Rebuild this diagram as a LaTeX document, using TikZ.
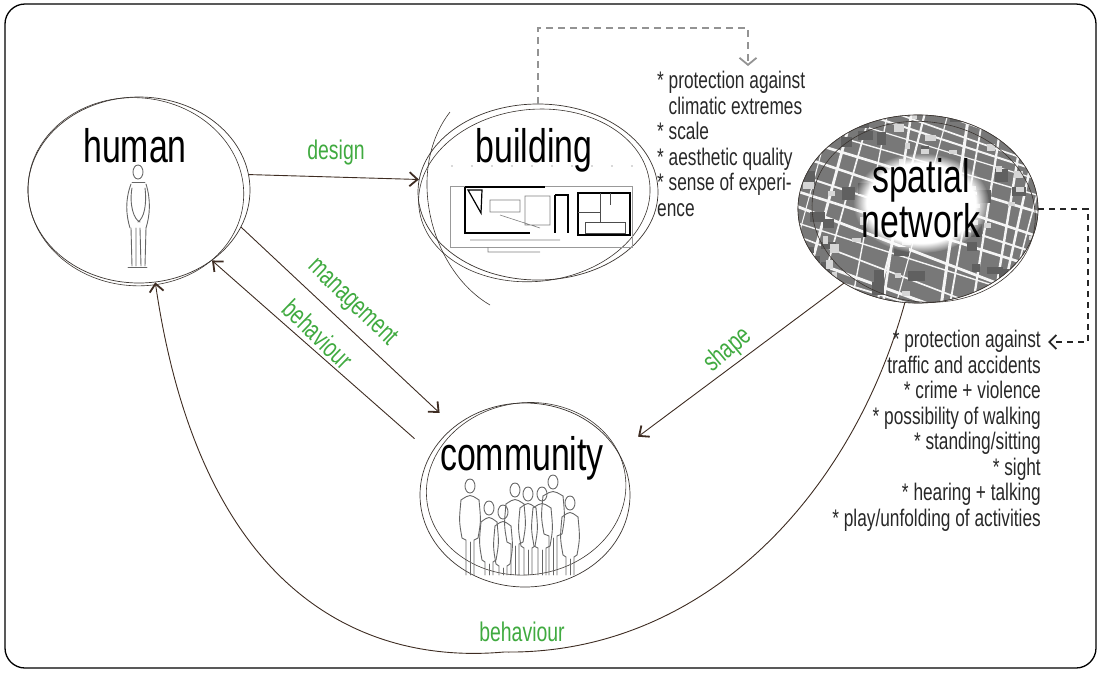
\documentclass[tikz,border=0pt]{standalone}
\usepackage{fontspec}
\setmainfont{Liberation Sans}[FakeStretch=0.72]
\usepackage{tikz}
\usetikzlibrary{shapes.geometric,arrows.meta,positioning,calc,fadings}
\definecolor{sketch}{RGB}{58,52,48}
\definecolor{arrowbrown}{RGB}{62,44,34}
\definecolor{labelgreen}{RGB}{64,170,64}
\definecolor{mapgray}{RGB}{120,120,120}
\definecolor{listgray}{RGB}{40,40,40}
\tikzset{
  hub/.style={ellipse, draw=sketch, line width=0.7pt, inner sep=0pt},
  sketchline/.style={draw=sketch, line width=0.6pt},
  hubtitle/.style={font=\fontsize{47}{45}\selectfont, align=center, inner sep=0pt},
  relabel/.style={text=labelgreen, font=\fontsize{27}{30}\selectfont, inner sep=0pt},
  conn/.style={draw=arrowbrown, line width=0.9pt, -{Straight Barb[length=8pt,width=14pt,line width=1.8pt]}},
  listtext/.style={text=listgray, font=\fontsize{24}{25.5}\selectfont, inner sep=0pt},
  street/.style={draw=white!92!gray},
  gdash/.style={draw=gray!85, line width=1.6pt, dash pattern=on 7pt off 5pt, -{Straight Barb[length=7pt,width=17pt,line width=1.8pt]}},
  bdash/.style={draw=black!85, line width=1.4pt, dash pattern=on 6pt off 5pt, -{Straight Barb[length=7pt,width=14pt,line width=1.8pt]}},
  stickman/.style={draw=black!60, line width=0.9pt, line cap=round, line join=round}
}
\begin{document}
\begin{tikzpicture}[x=1pt,y=-1pt]
    \useasboundingbox (0,0) rectangle (1101,673);
    \draw[line width=1.3pt, rounded corners=20pt] (5,4) rectangle (1096,668);

    % hubs
    \node[hub, minimum width=222pt, minimum height=186pt] (human) at (139,190) {};
    \node[hub, minimum width=240pt, minimum height=176pt] (building) at (538,192) {};
    \node[hub, minimum width=210pt, minimum height=184pt] (community) at (525,495) {};
    \node[hub, minimum width=240pt, minimum height=188pt] (spatial) at (918,209) {};

    % second strokes
    \draw[sketchline, rotate around={-5:(human.center)}] ([shift={(-3,2)}]human.center) ellipse [x radius=108, y radius=94];
    \draw[sketchline, rotate around={6:(building.center)}] ([shift={(-4,3)}]building.center) ellipse [x radius=116, y radius=86];
    \draw[sketchline] (450,112) .. controls (405,170) and (430,270) .. (490,305);
    \draw[sketchline, rotate around={8:(community.center)}] ([shift={(2,-6)}]community.center) ellipse [x radius=100, y radius=86];

    % city map
    \begin{scope}
      \clip (spatial.center) ellipse [x radius=120, y radius=94];
      \fill[mapgray] (spatial.center) ellipse [x radius=120, y radius=94];
      \pgfmathsetseed{7}
      \foreach \k in {0,...,18} {
        \pgfmathsetmacro{\oy}{20+16*\k+6*rnd}
        \pgfmathsetmacro{\lw}{1+2*rnd}
        \draw[street, line width=\lw pt] (780,\oy) -- ++(16+6*rnd:300);
      }
      \foreach \k in {0,...,14} {
        \pgfmathsetmacro{\ox}{795+19*\k+6*rnd}
        \pgfmathsetmacro{\lw}{1+2*rnd}
        \draw[street, line width=\lw pt] (\ox,100) -- ++(98+8*rnd:230);
      }
      \foreach \k in {1,...,40} {
        \pgfmathsetmacro{\sx}{790+250*rnd}
        \pgfmathsetmacro{\sy}{110+200*rnd}
        \fill[mapgray!80!black] (\sx,\sy) rectangle ++(8+10*rnd,6+8*rnd);
      }
      \foreach \k in {1,...,40} {
        \pgfmathsetmacro{\sx}{790+250*rnd}
        \pgfmathsetmacro{\sy}{110+200*rnd}
        \fill[white!70!mapgray] (\sx,\sy) rectangle ++(4+7*rnd,4+5*rnd);
      }
    \end{scope}
    \fill[white, path fading=circle with fuzzy edge 20 percent] (921,203) ellipse [x radius=68, y radius=50];
    \draw[sketchline] (spatial.center) ellipse [x radius=120, y radius=94];
    \draw[sketchline, rotate around={-8:(spatial.center)}] ([shift={(6,2)}]spatial.center) ellipse [x radius=112, y radius=90];

    % titles
    \node[hubtitle] (humantitle) at (135,146) {human};
    \node[hubtitle] (buildingtitle) at (534,150) {building};
    \node[hubtitle] (communitytitle) at (522,458) {community};
    \node[hubtitle] (spatialtitle) at (921,198) {spatial\\network};

    % stick man
    \draw[stickman] (138,172) ellipse [x radius=5, y radius=7];
    \draw[stickman] (132,182) -- (145,182);
    \draw[stickman] (131,184) .. controls (125,200) and (126,215) .. (130,228);
    \draw[stickman] (146,184) .. controls (151,200) and (150,215) .. (146,228);
    \draw[stickman] (132,188) .. controls (129,205) and (134,220) .. (140,222);
    \draw[stickman] (145,188) .. controls (147,205) and (144,218) .. (138,222);
    \draw[stickman] (131,228) -- (132,266) (136,228) -- (136,266) (140,228) -- (141,266) (146,228) -- (145,266);
    \draw[stickman] (128,267) -- (147,267);

    % floor plan
    \foreach \gx in {452,472,...,632} \fill[black!30] (\gx,166) circle (0.8);
    \draw[black!40, line width=0.5pt] (450,186) rectangle (632,247);
    \draw[black, line width=1.4pt] (465,187) -- (545,187) (465,187) -- (465,233) -- (530,233) (555,195) -- (555,233) (555,195) -- (568,195) -- (568,233) (578,193) -- (630,193) -- (630,235) -- (578,235) -- cycle;
    \draw[black, line width=1.2pt] (468,190) -- (482,190) -- (481,213) -- cycle;
    \draw[black!70, line width=0.7pt] (600,193) -- (600,222) (578,212) -- (600,212) (585,222) rectangle (625,233) (610,193) -- (610,205);
    \draw[black!50, line width=0.6pt] (490,200) rectangle (520,212) (525,196) rectangle (550,225) (500,215) -- (540,228) (470,240) -- (560,240) (488,247) -- (488,252) -- (540,252);

    % people
    \foreach \px/\py/\w in {470/486/9, 489/508/8, 503/512/8, 515/490/9, 528/494/8, 542/494/9, 553/482/10, 570/503/8} {
      \draw[stickman] (\px,\py) ellipse [x radius=5, y radius=7];
      \draw[stickman] (\px-\w,\py+14) .. controls (\px-\w-2,\py+35) .. (\px-\w+1,\py+52) -- (\px-4,\py+54) -- (\px-4,575);
      \draw[stickman] (\px+\w,\py+14) .. controls (\px+\w+2,\py+35) .. (\px+\w-1,\py+52) -- (\px+4,\py+54) -- (\px+4,575);
      \draw[stickman] (\px-\w,\py+14) .. controls (\px,\py+8) .. (\px+\w,\py+14);
      \draw[stickman] (\px,\py+56) -- (\px,575);
    }

    % relations
    \draw[conn] (human.8) -- (building.174);
    \draw[conn, shorten >=20pt] (human.-20) -- (community.136);
    \draw[conn, shorten <=22pt] (community.156) -- (human.-44);
    \draw[conn, shorten >=25pt] (spatial.225) -- (community.25);
    \draw[conn] (spatial.262) .. controls (850,500) and (700,655) .. (504,652) .. controls (360,665) and (200,590) .. (human.-80);

    \node[relabel] (designlabel) at (336,153) {design};
    \node[relabel, rotate=-44] (managelabel) at (352,303) {management};
    \node[relabel, rotate=-44] (behavelabel) at (318,334) {behaviour};
    \node[relabel, rotate=40] (shapelabel) at (728,350) {shape};
    \node[relabel] (behavelabelb) at (522,632) {behaviour};

    % qualities
    \node[listtext, anchor=north west, align=left] (climate) at (657,71) {* protection against\\\phantom{*} climatic extremes\\* scale\\* aesthetic quality\\* sense of experi-\\ence};
    \node[listtext, anchor=north east, align=right] (traffic) at (1041,330) {* protection against\\traffic and accidents\\* crime + violence\\* possibility of walking\\* standing/sitting\\* sight\\* hearing + talking\\* play/unfolding of activities};

    \coordinate (climatein) at (748,66);
    \draw[gdash] (building.north) |- (748,28) -- (climatein);
    \coordinate (trafficin) at (1048,342);
    \draw[bdash] (spatial.east) -| (1088,342) -- (trafficin);
\end{tikzpicture}
\end{document}
